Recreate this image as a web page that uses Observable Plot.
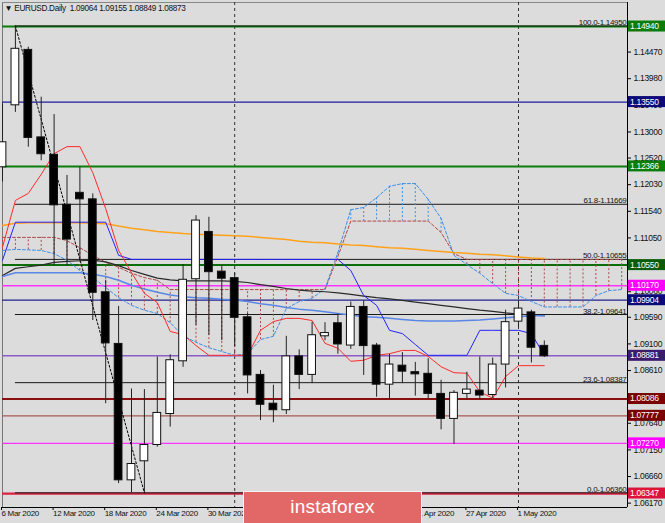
<!DOCTYPE html>
<html><head><meta charset="utf-8">
<script src="https://cdn.jsdelivr.net/npm/d3@7"></script>
<script src="https://cdn.jsdelivr.net/npm/@observablehq/plot@0.6"></script>
<style>
html,body{margin:0;padding:0;background:#dcdcdc;}
#wrap{position:relative;width:665px;height:523px;overflow:hidden;}
#wrap svg{position:absolute;left:0;top:0;}
#logo{position:absolute;left:243px;top:491px;width:179px;height:34px;background:#e26868;border:1px solid #f3f3f3;box-sizing:border-box;color:#fff;font:19px "Liberation Sans",Arial,sans-serif;text-align:center;line-height:29px;letter-spacing:0.2px;}
</style></head><body><div id="wrap"><div id="logo">instaforex</div></div>
<script>
// ---- data ----
const symbolTitle = "EURUSD.Daily";
const opens  = [1.1235,1.1349,1.1451,1.1290,1.1258,1.1166,1.1188,1.1176,1.1005,1.0910,1.0659,1.0694,1.0724,1.0781,1.0878,1.1029,1.1116,1.1043,1.1031,1.0959,1.0853,1.0800,1.0788,1.0887,1.0853,1.0924,1.0948,1.0907,1.0978,1.0907,1.0835,1.0870,1.0858,1.0855,1.0818,1.0772,1.0818,1.0824,1.0816,1.0872,1.0951,1.0968,1.09064];
const highs  = [1.1352,1.1495,1.1456,1.1364,1.1332,1.1220,1.1235,1.1186,1.1027,1.0979,1.0827,1.0826,1.0886,1.0890,1.1056,1.1146,1.1143,1.1054,1.1040,1.0966,1.0861,1.0834,1.0924,1.0899,1.0950,1.0949,1.0965,1.0987,1.0989,1.0911,1.0891,1.0894,1.0876,1.0883,1.0843,1.0824,1.0858,1.0886,1.0884,1.0972,1.0990,1.0972,1.09155];
const lows   = [1.1208,1.1336,1.1272,1.1247,1.1054,1.1054,1.1064,1.0953,1.0800,1.0653,1.0636,1.0636,1.0720,1.0757,1.0867,1.0944,1.0926,1.0916,1.0905,1.0818,1.0769,1.0765,1.0780,1.0826,1.0837,1.0916,1.0891,1.0900,1.0852,1.0812,1.0809,1.0837,1.0814,1.0809,1.0752,1.0725,1.0809,1.0807,1.0809,1.0829,1.0940,1.0875,1.08849];
const closes = [1.1281,1.1453,1.1289,1.1259,1.1165,1.1102,1.1176,1.1004,1.0911,1.0659,1.0689,1.0724,1.0783,1.0880,1.1028,1.1137,1.1042,1.1030,1.0958,1.0852,1.0798,1.0788,1.0887,1.0853,1.0926,1.0930,1.0909,1.0978,1.0906,1.0835,1.0872,1.0859,1.0854,1.0818,1.0772,1.0820,1.0826,1.0815,1.0872,1.0950,1.0975,1.0903,1.08873];

const tenkan = [1.1088,1.1174,1.1187,1.1222,1.1260,1.1273,1.1273,1.1225,1.1159,1.1082,1.1041,1.1003,1.0986,1.0933,1.0927,1.0907,1.0889,1.0889,1.0889,1.0889,1.0935,1.0951,1.0957,1.0957,1.0953,1.0911,1.0902,1.0878,1.0880,1.0889,1.0892,1.0898,1.0898,1.0887,1.0868,1.0857,1.0856,1.0822,1.0810,1.0850,1.0870,1.0870,1.0870];
const kijun  = [1.1064,1.1134,1.1134,1.1134,1.1134,1.1134,1.1134,1.1134,1.1134,1.1073,1.10655,1.10655,1.10655,1.10655,1.10655,1.10655,1.10655,1.10655,1.10655,1.10655,1.10655,1.10655,1.10655,1.10655,1.10655,1.10655,1.10655,1.1045,1.0999,1.0981,1.0935,1.0929,1.0909,1.0889,1.0889,1.0889,1.0889,1.0935,1.0935,1.0935,1.0935,1.0929,1.0889];
const senkouA = [1.1082,1.1084,1.1083,1.1082,1.1076,1.1064,1.1045,1.1032,1.1014,1.0995,1.0981,1.0972,1.0966,1.0949,1.0925,1.0913,1.0903,1.0896,1.0889,1.0892,1.0918,1.0924,1.0975,1.0988,1.0994,1.1012,1.1078,1.1157,1.1161,1.1179,1.1200,1.1205,1.1205,1.1176,1.1141,1.1073,1.1056,1.1040,1.1021,1.1003,1.0999,1.0988,1.0978,1.0978,1.0978,1.0978,1.0999,1.1008,1.1010];
const senkouB = [1.1106,1.1106,1.1106,1.1106,1.1106,1.1100,1.1087,1.1073,1.1060,1.1051,1.1040,1.1032,1.1027,1.1010,1.1010,1.1010,1.1010,1.1010,1.1010,1.1010,1.1010,1.1010,1.1010,1.1010,1.1010,1.1010,1.1071,1.1136,1.1136,1.1136,1.1136,1.1136,1.1136,1.1136,1.1115,1.1076,1.10655,1.10655,1.10655,1.10655,1.10655,1.10655,1.10655,1.10655,1.10655,1.10655,1.10655,1.10655,1.10655];
const maOrange = [1.1128,1.1132,1.1133,1.1133,1.1133,1.1133,1.1133,1.1132,1.1131,1.1127,1.1123,1.1120,1.1117,1.1115,1.1113,1.1112,1.1111,1.1110,1.1109,1.1108,1.1106,1.1104,1.1102,1.1099,1.1097,1.1096,1.1094,1.1092,1.1091,1.1089,1.1087,1.1086,1.1084,1.1082,1.1080,1.1078,1.1077,1.1075,1.1074,1.1072,1.1070,1.1068,1.1067];
const maDark = [1.1036,1.1049,1.1052,1.1055,1.1060,1.1062,1.1063,1.1064,1.1061,1.1054,1.1045,1.1038,1.1031,1.1028,1.1026,1.1026,1.1026,1.1026,1.1025,1.1023,1.1019,1.1016,1.1012,1.1009,1.1007,1.1006,1.1004,1.1001,1.0998,1.0995,1.0993,1.0990,1.0987,1.0984,1.0981,1.0978,1.0975,1.0972,1.0970,1.0967,1.0965,1.0963,1.0962];
const maBlue = [1.1034,1.1041,1.1041,1.1041,1.1041,1.1041,1.1041,1.1038,1.1034,1.1027,1.1018,1.1011,1.1005,1.1000,1.0997,1.0995,1.0994,1.0992,1.0991,1.0988,1.0984,1.0981,1.0977,1.0974,1.0972,1.0969,1.0966,1.0963,1.0960,1.0959,1.0957,1.0955,1.0953,1.0952,1.0952,1.0952,1.0953,1.0954,1.0956,1.0958,1.0960,1.0962,1.0962];

const levelPrices = [1.14940,1.13550,1.12366,1.10550,1.10170,1.09904,1.08881,1.08086,1.07777,1.07270,1.06347];
const fibLevels = [100.0,61.8,50.0,38.2,23.6,0.0];
const fibPrices = [1.14950,1.11669,1.10655,1.09641,1.08387,1.06360];
const fibAnchorBars = [1,11];           // 9 Mar high -> 23 Mar low
const fibAnchorPrices = [1.14950,1.06360];
const separatorBars = [18,40];          // 1 Apr, 1 May
const priceTicks = [1.14470,1.13980,1.13490,1.13000,1.12520,1.12030,1.11540,1.11050,1.10560,1.10060,1.09590,1.09100,1.08610,1.08120,1.07640,1.07150,1.06660,1.06170];
const dateTickBars = [0,4,8,12,16,20,24,28,32,36,40];
const dateTickLabels = ["6 Mar 2020","12 Mar 2020","18 Mar 2020","24 Mar 2020","30 Mar 2020","3 Apr 2020","9 Apr 2020","15 Apr 2020","21 Apr 2020","27 Apr 2020","1 May 2020"];

// ---- styles ----
const FONT = '"Liberation Sans",Arial,sans-serif';
const levelStyles = [
  {c:"#0b7d0b",w:2,box:"#0b7d0b"},{c:"#1c1c9c",w:1.2,box:"#0a0a7a"},{c:"#0b7d0b",w:2,box:"#0b7d0b"},
  {c:"#0b6e0b",w:2,box:"#0a5c0a"},{c:"#ff33ff",w:1.5,box:"#ff00ff"},{c:"#22228f",w:1.2,box:"#0a0a7a"},
  {c:"#8a5cc4",w:1.5,box:"#3a1b6e"},{c:"#8b0f0f",w:2,box:"#7a0000"},{c:"#a85a55",w:1.2,box:"#7a0000"},
  {c:"#ff33ff",w:1.2,box:"#ff00ff"},{c:"#dc2040",w:2.2,box:"#dc143c"}];
const X_MAX = 625/12.9;
const Y_DOMAIN = [1.0609, 1.15382];

const candles = opens.map((o,i)=>({i,o,h:highs[i],l:lows[i],c:closes[i]}));
const series = arr => arr.map((v,i)=>({i,v}));
const cloud = senkouA.map((a,i)=>({i,a,b:senkouB[i]}));
const fibs = fibLevels.map((lv,k)=>({lv,p:fibPrices[k]}));
const fibDiag = fibAnchorBars.map((b,k)=>({i:b,v:fibAnchorPrices[k]}));
const last = candles[candles.length-1];
const title = "\u25BC " + symbolTitle + "  " + [last.o,last.h,last.l,last.c].map(v=>v.toFixed(5)).join(" ");
const dateLabelOf = new Map(dateTickBars.map((b,k)=>[b,dateTickLabels[k]]));

const chart = Plot.plot({
  width: 665, height: 523,
  marginLeft: 2, marginRight: 38, marginTop: 2, marginBottom: 16,
  style: {background: "#dcdcdc", fontFamily: FONT, fontSize: "8.5px", letterSpacing: "-0.3px", color: "#000", overflow: "visible"},
  x: {domain: [0, X_MAX]},
  y: {domain: Y_DOMAIN},
  marks: [
    // borders
    Plot.ruleX([0], {stroke: "#777", strokeWidth: 1}),
    Plot.ruleY([Y_DOMAIN[1]], {stroke: "#888", strokeWidth: 1}),
    // separators
    Plot.ruleX(separatorBars, {stroke: "#333", strokeDasharray: "3,3", strokeWidth: 1}),
    // horizontal levels
    ...levelPrices.map((p,k)=>Plot.ruleY([p], {stroke: levelStyles[k].c, strokeWidth: levelStyles[k].w})),
    // fib levels
    Plot.ruleY(fibs, {y: "p", x1: fibAnchorBars[0], x2: X_MAX, stroke: "#1a1a1a", strokeWidth: 1}),
    // cloud hatch
    Plot.ruleX(cloud, {x: "i", y1: "a", y2: "b", stroke: d => d.a >= d.b ? "#3d8fe8" : "#b04848", strokeDasharray: "2,2", strokeWidth: 1}),
    Plot.line(series(senkouB), {x: "i", y: "v", stroke: "#b04848", strokeDasharray: "3,2", strokeWidth: 1}),
    Plot.line(series(senkouA), {x: "i", y: "v", stroke: "#3d8fe8", strokeDasharray: "3,2", strokeWidth: 1}),
    // moving averages
    Plot.line(series(maOrange), {x: "i", y: "v", stroke: "#ffa21a", strokeWidth: 1.5}),
    Plot.line(series(maDark), {x: "i", y: "v", stroke: "#2a2a2a", strokeWidth: 1.2}),
    Plot.line(series(maBlue), {x: "i", y: "v", stroke: "#5a86e6", strokeWidth: 1.5}),
    // ichimoku lines
    Plot.line(series(kijun), {x: "i", y: "v", stroke: "#2424ff", strokeWidth: 1}),
    Plot.line(series(tenkan), {x: "i", y: "v", stroke: "#ff2a2a", strokeWidth: 1}),
    // fib trend line
    Plot.line(fibDiag, {x: "i", y: "v", stroke: "#000", strokeDasharray: "2,2", strokeWidth: 1}),
    // candles
    Plot.ruleX(candles, {x: "i", y1: "l", y2: "h", stroke: "#222", strokeWidth: 1}),
    Plot.rect(candles, {x1: d => d.i - 0.3, x2: d => d.i + 0.3, y1: "o", y2: "c", fill: d => d.c >= d.o ? "#fff" : "#000", stroke: "#111", strokeWidth: 1}),
    // fib labels
    Plot.text(fibs, {x: X_MAX, y: "p", text: d => d.lv.toFixed(1) + "-" + d.p.toFixed(5), textAnchor: "end", lineAnchor: "bottom", dx: -1, dy: -1, fontSize: 8, fill: "#111"}),
    // title
    Plot.text([title], {frameAnchor: "top-left", dx: 2, dy: 3, lineAnchor: "top", textAnchor: "start", fontSize: 8.2, fill: "#111"}),
    // axes
    Plot.axisY(priceTicks, {anchor: "right", tickFormat: d => d.toFixed(5), tickSize: 3, tickPadding: 3, label: null, fill: "#111"}),
    Plot.axisX(dateTickBars, {anchor: "bottom", tickFormat: b => dateLabelOf.get(b), tickSize: 3, tickPadding: 0, textAnchor: "start", dx: -1, fontSize: 8, label: null, fill: "#111"}),
    Plot.ruleX([X_MAX], {stroke: "#000", strokeWidth: 1}),
    Plot.ruleY([Y_DOMAIN[0]], {stroke: "#000", strokeWidth: 1})
  ]
});

// price marker boxes on the right axis, placed through the chart's own scales
const ys = chart.scale("y"), xs = chart.scale("x");
const svg = d3.select(chart);
const gBox = svg.append("g").attr("font-family", FONT).attr("font-size", 8.5).attr("text-anchor", "start");
const x0 = xs.apply(X_MAX) + 1;
levelPrices.forEach((p,k)=>{
  const y = ys.apply(p);
  gBox.append("rect").attr("x", x0).attr("y", y - 5.5).attr("width", 665 - x0).attr("height", 11).attr("fill", levelStyles[k].box);
  gBox.append("text").attr("x", x0 + 2).attr("y", y).attr("dy", "0.35em").attr("fill", "#fff").text(p.toFixed(5));
});

const wrap = document.getElementById("wrap");
wrap.insertBefore(chart, document.getElementById("logo"));
</script>
</body></html>
